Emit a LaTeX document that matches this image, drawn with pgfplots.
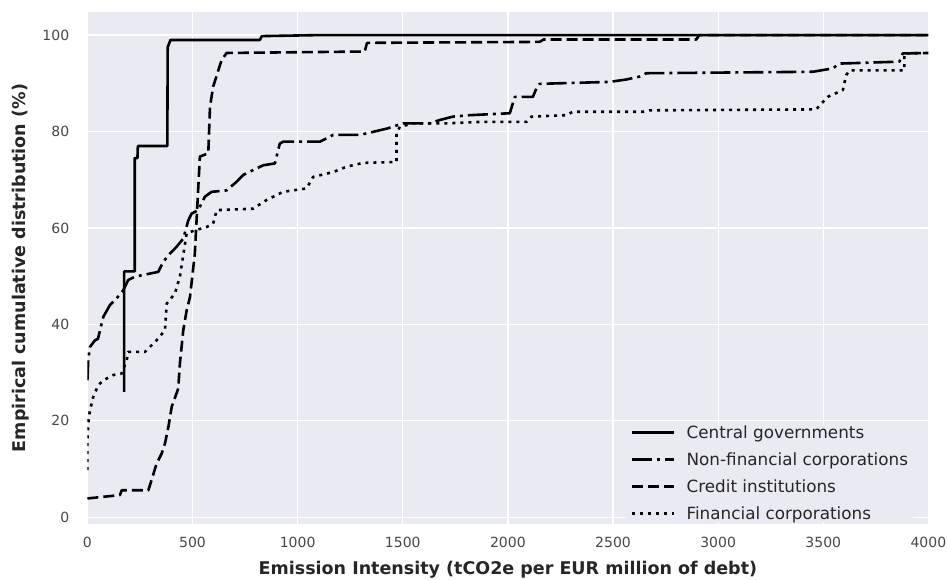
\documentclass[border=0pt]{standalone}
\usepackage{fontspec}
\setmainfont{DejaVu Sans}
\usepackage{pgfplots}
\pgfplotsset{compat=1.18}
\definecolor{bgc}{HTML}{EAEAF2}
\definecolor{txt}{HTML}{262626}
\begin{document}
\begin{tikzpicture}
\path[use as bounding box] (-87.4pt,-55pt) rectangle (859.6pt,524pt);
\begin{axis}[
 at={(0,0)}, anchor=south west,
 width=841pt, height=512pt, scale only axis,
 xmin=0, xmax=4000, ymin=-1.4, ymax=104.8,
 xtick={0,500,...,4000}, ytick={0,20,...,100},
 axis background/.style={fill=bgc},
 axis line style={draw=none},
 major tick length=0pt,
 grid=major, major grid style={white, line width=1.3pt},
 /pgf/number format/assume math mode=true,
 /pgf/number format/1000 sep={},
 tick label style={font=\fontsize{14}{16}\selectfont, text=txt!85},
 yticklabel style={inner sep=0pt, anchor=east, xshift=-18pt},
 xticklabel style={inner sep=0pt, anchor=north, yshift=-13pt},
 xlabel={Emission Intensity (tCO2e per EUR million of debt)},
 ylabel={Empirical cumulative distribution (\%)},
 label style={font=\bfseries\fontsize{17.5}{20}\selectfont, text=txt},
 xlabel style={at={(axis description cs:0.5,-0.0996)}, anchor=base},
 ylabel style={at={(axis description cs:-0.0737,0.5)}, anchor=base},
 legend style={at={(rel axis cs:0.982,0.004)}, anchor=south east, fill=bgc, draw=none,
   inner xsep=5pt, inner ysep=1.5pt, font=\fontsize{16.8}{19}\selectfont, text=txt,
   row sep=14pt, column sep=11pt,
   nodes={inner sep=0pt, text height=12pt, text depth=1pt}},
 legend cell align=left,
 legend image code/.code={\path[draw=none,fill=none] (0pt,-6pt) rectangle (1pt,-5pt); \draw[line width=2.8pt,#1] (0pt,0pt) -- (42pt,0pt);},
 every axis plot/.append style={line join=round},
]
% Central governments
\addplot[black, line width=2.6pt] coordinates {
(175,26) (175,51) (225,51) (225,74.5) (238,74.5) (240,77) (380,77) (382,97.5) (395,99) (820,99) (830,99.8) (1090,100) (4000,100)
};
\addlegendentry{Central governments}
% Non-financial corporations
\addplot[black, line width=2.6pt, dash pattern=on 20pt off 5pt on 3pt off 5pt] coordinates {
(0,28.4) (4,32.6) (12,35.3) (36,36.7) (50,37) (76,41.6) (107,44) (139,45.4) (171,47.1) (194,49.2) (226,49.9) (337,50.9) (361,53) (393,54.7) (424,56.1) (456,57.8) (480,61.6) (496,63) (527,63.7) (559,66.5) (591,67.5) (662,67.8) (710,69.6) (741,71) (788,72) (836,73) (892,73.4) (915,77.5) (931,77.9) (1106,77.9) (1169,79.3) (1296,79.3) (1423,80.6) (1502,81.7) (1629,81.7) (1676,82.4) (1739,83.1) (1819,83.4) (2009,83.8) (2033,87.2) (2119,87.2) (2135,88.9) (2151,89.9) (2484,90.3) (2563,90.8) (2626,91.4) (2658,92.1) (3450,92.4) (3545,93.1) (3577,94.1) (3862,94.5) (3878,96.2) (4000,96.3)
};
\addlegendentry{Non-financial corporations}
% Credit institutions
\addplot[black, line width=2.6pt, dash pattern=on 11pt off 5pt] coordinates {
(0,3.9) (155,4.6) (163,5.6) (290,5.6) (305,7.7) (329,11.1) (353,13.2) (369,15.3) (385,18.7) (401,22.9) (432,26.7) (440,31.9) (456,38.8) (472,42.9) (488,45.7) (511,54.7) (535,74.8) (575,75.5) (583,85.1) (598,89.3) (638,94.8) (662,96.3) (1319,96.6) (1330,98.4) (2151,98.6) (2170,99.1) (2896,99.1) (2910,100) (4000,100)
};
\addlegendentry{Credit institutions}
% Financial corporations
\addplot[black, line width=2.6pt, dash pattern=on 3pt off 5pt] coordinates {
(0,9.75) (0,16) (4,19.4) (12,22.2) (28,25) (52,27.4) (76,28.4) (123,29.5) (163,29.8) (187,32.6) (194,34.3) (274,34.3) (329,36.7) (369,38.8) (377,44.3) (416,46.4) (440,49.9) (472,58.9) (511,59.5) (567,60.2) (598,60.9) (615,63.7) (788,64) (852,65.8) (931,67.5) (1042,68.2) (1074,70.6) (1169,71.6) (1232,72.7) (1311,73.5) (1470,73.7) (1470,79.6) (1486,81) (1549,81.7) (1708,81.7) (1866,82) (2088,82) (2112,83.1) (2278,83.4) (2309,84.1) (2642,84.1) (2674,84.4) (3466,84.6) (3521,87.2) (3593,88.6) (3609,91.7) (3625,92.7) (3886,92.7) (3886,96.2) (4000,96.3)
};
\addlegendentry{Financial corporations}
\end{axis}
\end{tikzpicture}
\end{document}
